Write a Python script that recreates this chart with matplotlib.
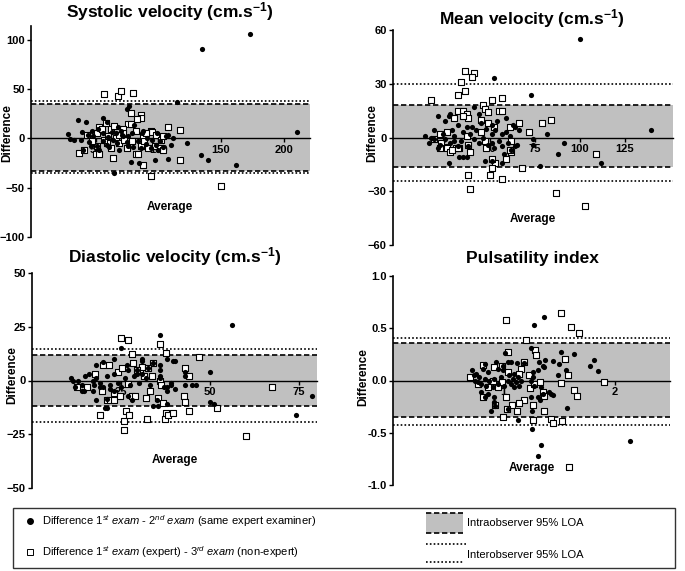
import matplotlib
matplotlib.use('Agg')
import matplotlib.pyplot as plt
from matplotlib.patches import Rectangle

plt.rcParams['font.family'] = ['Liberation Sans', 'DejaVu Sans']
plt.rcParams['font.weight'] = 'bold'
plt.rcParams['mathtext.fontset'] = 'custom'
plt.rcParams['mathtext.rm'] = 'Liberation Sans:weight=normal'
plt.rcParams['mathtext.it'] = 'Liberation Sans:style=italic:weight=normal'
plt.rcParams['mathtext.bf'] = 'Liberation Sans:weight=bold'
plt.rcParams['mathtext.sf'] = 'Liberation Sans:weight=normal'

# ---------------- data ----------------
titles = ['Systolic velocity (cm.s$^{\\mathbf{-1}}$)',
          'Mean velocity (cm.s$^{\\mathbf{-1}}$)',
          'Diastolic velocity (cm.s$^{\\mathbf{-1}}$)',
          'Pulsatility index']

sys_intra = [(173,106),(135,91),(211,7),(115,37),(123,-5),(134,-17),(140,-22),(162,-27),(65,-35),(78,-24),(85,-25),(97,-22),(108,-21),
             (77,33),(75,30),(36,19),(42,17),(56,21),(28,4),(30,-1),(39,7),(38,-2),(47,8),(48,2),(52,10),(59,17),(68,12),(66,5),(72,2),(79,5),
             (81,14),(87,5),(91,0),(95,-2),(99,5),(101,-3),(106,2),(110,-7),(112,0),(40,-12),(51,-8),(59,-7),(69,-12),(76,-8),(86,-10),(94,-10),
             (98,-7),(75,-4),(64,-2),(56,-3),(46,-8),(56,5),(70,8),(88,8),(76,2),(63,7),(33,-2),(44,3),(60,1),(84,-3),(90,-6),(104,-9),(67,-5),
             (53,-12),(61,-9),(80,-9),(100,-12),(108,3),(45,-4),(71,3)]
sys_inter = [(57,45),(68,43),(70,48),(80,46),(78,26),(86,24),(86,21),(58,16),(76,15),(78,15),(53,12),(62,10),(72,10),(108,12),(117,9),
             (94,8),(95,6),(98,3),(43,3),(51,5),(66,0),(82,8),(88,2),(79,-3),(69,-5),(59,-5),(51,-8),(37,-15),(41,-12),(50,-16),(53,-16),
             (64,-20),(82,-16),(84,-16),(88,-27),(94,-38),(117,-22),(97,-8),(101,-10),(104,-12),(86,-8),(75,-10),(57,-2),(72,5),(92,-10),
             (150,-48),(102,-2),(104,2),(89,-3),(69,3),(62,-10),(47,-3),(55,10),(65,13),(83,20),(60,2),(73,-2),(90,5)]

mean_intra = [(100,55),(52,33),(73,24),(140,4),(82,2),(91,-3),(74,-1),(74,-4),(88,-9),(78,-16),(112,-14),
              (14,1),(17,0),(21,12),(19,4),(21,-6),(27,-14),(28,13),(30,-2),(35,-11),(40,6),(41,17),(44,13),(51,-3),(51,-13),(57,-14),
              (59,11),(63,7),(65,-4),(61,1),(27,12),(25,9),(32,7),(29,4),(37,6),(39,2),(45,8),(48,5),(51,7),(54,9),(53,4),(57,2),(59,3),
              (64,6),(66,4),(25,-1),(28,-3),(32,-5),(34,-2),(38,-5),(41,-1),(44,-3),(46,0),(49,-4),(52,-6),(55,-2),(57,-5),(60,-3),(62,-7),
              (64,-5),(33,-11),(37,-11),(47,-13),(58,-9),(19,-1),(22,-4),(16,-3),(51,2),(30,1),(35,3),(42,4),(24,2)]
mean_inter = [(36,37),(41,36),(40,34),(34,31),(36,26),(32,24),(17,21),(57,22),(51,21),(46,18),(47,16),(49,14),(55,15),(57,15),(32,15),
              (35,15),(37,13),(38,11),(35,12),(30,11),(66,8),(72,3),(79,8),(84,10),(45,10),(49,8),(52,6),(61,6),(62,-2),(62,-8),(68,-17),
              (59,-12),(53,-14),(51,-12),(51,-17),(50,-21),(38,-21),(39,-29),(57,-23),(87,-31),(103,-38),(109,-9),(33,-6),(38,-4),(39,-8),
              (26,-6),(28,-8),(31,-6),(22,2),(23,-3),(26,3),(19,-1),(37,1),(45,3),(47,-2),(61,-7),(48,-6),(22,-6),(29,-7),(32,-6)]

dia_intra = [(56,26),(36,21),(25,15),(50,4),(51,-11),(50,-10),(74,-16),(78.5,-7),(45,-2),(46,-2),(43,-2),(43,4),(43,2),(38,10),(39.5,9),
             (36,7),(36,2),(38,-3),(39,-1),(38,-11),(34,-12),(21,-13),(18,-9),(19,-3),(11,1),(11.5,0),(13,0),(14,-2),(14,-5),(15,2),(16,3),
             (18,7),(20,8.5),(23,10),(17,0),(17.5,-2),(18,1),(19,-1),(20,-3),(21,2),(22,-2),(23,3),(24,-1),(25,-3),(26,1),(27,5),(27.5,-2),
             (28.5,2),(29.5,5),(30,-1),(31,3),(32,1),(32.5,6),(33,-2),(31,9),(34,8),(36,5),(36,1),(37,-3),(38,-5),(39,-2),(40,-4),(40,9),
             (35,-9),(35.5,-12),(21,-8.5),(20.5,-13),(17,-5),(14.5,-5),(23,-5),(27,-7),(28,-9),(22,-4),(12,-3),(26.7,7),(31,10),(29.5,3)]
dia_inter = [(25,20),(27,19),(36,17),(37.6,13),(47,11),(43,6),(44,2),(42.6,-7),(43,-10),(44,-14),(52,-13),(60,-26),(67.5,-3),(25.7,-19),
             (26.4,-14),(27.3,-16),(25.7,-23),(19.2,-16),(32.3,-18),(37.2,-18),(37.6,-15),(38.3,-16),(39.6,-15),(12.7,-3),(15.3,-3),
             (19.7,-5),(21,-9),(22,-9),(23,-9),(23,-6),(24.8,-7),(28,-7),(29,-7),(32,-8),(33,-5),(35.8,0),(36.2,-2),(35.5,-8),(36.7,-10.5),
             (20,7),(21.5,7),(17.8,3),(28,12.4),(28.3,8),(30.4,5),(34,8),(30.8,6.5),(32.7,6),(24,4),(25.3,6),(29.5,4.7),(31.3,2),(33.7,2),
             (27,-1.6)]

pi_intra = [(1.365,0.61),(1.275,0.53),(2.14,-0.58),(1.335,-0.62),(1.305,-0.72),(1.25,-0.46),(1.13,-0.38),(1.57,-0.26),(1.43,-0.13),
            (1.485,0.05),(1.52,0.27),(1.44,0.19),(1.56,0.1),(1.63,0.25),(1.78,0.14),(1.81,0.2),(1.85,0.09),(1.5,0.16),(1.37,0.2),
            (1.365,0.13),(1.245,0.31),(1.305,-0.16),(1.33,-0.19),(1.245,-0.16),(1.25,-0.29),(0.92,-0.24),(0.88,-0.29),(1.015,0.26),
            (1.066,0.18),(1.12,0.17),(0.716,0.096),(0.826,0.16),(1.096,0.064),(0.73,0.048),(0.81,0.11),(0.856,0.08),(0.93,0.175),
            (0.99,0.14),(1.036,0.175),(1.186,0.166),(1.32,0.175),(1.35,0.14),(1.305,0.096),(1.26,0.08),(0.737,0),(0.767,-0.016),
            (0.796,-0.03),(0.826,0.016),(0.84,-0.048),(0.87,0),(0.9,-0.064),(0.916,0.016),(0.946,-0.03),(0.976,0.03),(1.006,-0.048),
            (1.036,0),(1.05,0.048),(1.066,-0.03),(1.08,0.016),(1.096,-0.064),(1.11,-0.016),(1.126,0.03),(1.14,-0.048),(1.156,0),
            (0.796,-0.11),(0.826,-0.16),(0.856,-0.127),(0.916,-0.16),(0.91,-0.207),(1.245,0),(1.275,-0.048),(1.26,0.03),(1.335,-0.064),
            (1.35,-0.127),(1.41,-0.11),(1.44,-0.137),(1.036,-0.27),(0.78,0.03),(0.75,0.064),(0.99,0.096),(0.946,0.11)]
pi_inter = [(1.02,0.58),(1.52,0.65),(1.605,0.51),(1.68,0.45),(1.2,0.39),(1.036,0.27),(1.285,0.29),(1.29,0.24),(1.55,0.21),(1.635,-0.09),
            (1.665,-0.15),(1.9,-0.016),(1.58,0.05),(1.515,-0.02),(1.59,-0.83),(1.524,-0.39),(1.425,-0.37),(1.446,-0.41),(1.26,-0.38),
            (1.365,-0.29),(1.266,-0.23),(1.18,-0.19),(1.14,-0.22),(1.075,-0.23),(1.03,-0.27),(1.12,-0.29),(0.99,-0.35),(0.92,-0.23),
            (1.02,-0.16),(0.81,-0.16),(0.698,0.03),(0.81,0.15),(0.916,0.13),(0.985,0.14),(1.036,0.08),(1.156,0.11),(1.18,0.175),
            (1.14,0.064),(1.23,0.057),(1.24,-0.07),(1.275,-0.03),(1.33,-0.016),(1.35,-0.11),(1.365,-0.15),(0.946,-0.064),(0.856,-0.064),
            (0.766,-0.03),(0.9,0),(0.98,-0.016)]

intra_series = [sys_intra, mean_intra, dia_intra, pi_intra]
inter_series = [sys_inter, mean_inter, dia_inter, pi_inter]

intra_upper = [35, 18, 12, 0.36]
intra_lower = [-33, -16.7, -12, -0.35]
inter_upper = [38, 29.8, 14.6, 0.41]
inter_lower = [-35, -24.2, -19.4, -0.43]

xlims = [(-1.5, 221), (-4, 152), (0, 80), (0, 2.5)]
ylims = [(-100, 114), (-60, 60), (-50, 50), (-1, 1)]
xticks = [[50, 100, 150, 200], [25, 50, 75, 100, 125], [25, 50, 75], [1, 2]]
yticks = [[-100, -50, 0, 50, 100], [-60, -30, 0, 30, 60], [-50, -25, 0, 25, 50], [-1.0, -0.5, 0.0, 0.5, 1.0]]
ytick_labels = [None, None, None, ['-1.0', '-0.5', '0.0', '0.5', '1.0']]

# ---------------- layout (pixels) ----------------
W, H = 685, 571
fig = plt.figure(figsize=(W / 100, H / 100), dpi=100)

boxes = [(31, 26, 310, 237), (393, 30, 673, 245), (32, 273, 317, 488), (393, 276, 670, 485)]
title_pos = [(170, 12), (532, 19), (175, 257), (532, 258)]
avg_pos = [(170, 207), (533, 219), (175, 460), (532, 468)]
diff_pos = [(7, 133), (372, 133), (12, 375), (363, 377)]


def fx(x):
    return x / W


def fy(y):
    return 1 - y / H


for i in range(4):
    l, t, r, b = boxes[i]
    ax = fig.add_axes([l / W, 1 - b / H, (r - l) / W, (b - t) / H])
    ax.set_xlim(*xlims[i])
    ax.set_ylim(*ylims[i])
    ax.patch.set_visible(False)
    for s in ['top', 'right']:
        ax.spines[s].set_visible(False)
    ax.spines['bottom'].set_position(('data', 0))
    ax.spines['bottom'].set_linewidth(1.0)
    ax.spines['left'].set_linewidth(1.2)
    x0, x1 = xlims[i]
    ax.fill_between([x0, x1], intra_lower[i], intra_upper[i], color='#c0c0c0', lw=0, zorder=0.5)
    for v in (intra_upper[i], intra_lower[i]):
        ax.plot([x0, x1], [v, v], color='black', lw=1.2, ls=(0, (3.2, 1.6)), zorder=1)
    for v in (inter_upper[i], inter_lower[i]):
        ax.plot([x0, x1], [v, v], color='black', lw=1.2, ls=(0, (1, 1.3)), zorder=1)
    xa = [p[0] for p in intra_series[i]]
    ya = [p[1] for p in intra_series[i]]
    xb = [p[0] for p in inter_series[i]]
    yb = [p[1] for p in inter_series[i]]
    ax.scatter(xb, yb, s=20, marker='s', facecolor='white', edgecolor='black', linewidth=0.8, zorder=3)
    ax.scatter(xa, ya, s=14, marker='o', color='black', linewidth=0, zorder=4)
    ax.set_xticks(xticks[i])
    ax.set_yticks(yticks[i])
    if ytick_labels[i] is not None:
        ax.set_yticklabels(ytick_labels[i])
    ax.tick_params(axis='both', direction='out', length=3, width=1, pad=1.5, labelsize=8)
    for lab in ax.get_xticklabels() + ax.get_yticklabels():
        lab.set_fontweight('bold')
    fig.text(fx(title_pos[i][0]), fy(title_pos[i][1]), titles[i], ha='center', va='center',
             fontsize=12.5, fontweight='bold')
    fig.text(fx(avg_pos[i][0]), fy(avg_pos[i][1]), 'Average', ha='center', va='center',
             fontsize=8.5, fontweight='bold')
    fig.text(fx(diff_pos[i][0]), fy(diff_pos[i][1]), 'Difference', ha='center', va='center',
             rotation=90, fontsize=8.5, fontweight='bold')

# ---------------- legend ----------------
lg = fig.add_axes([0, 0, 1, 1])
lg.set_xlim(0, W)
lg.set_ylim(H, 0)
lg.axis('off')
lg.patch.set_visible(False)
lg.add_patch(Rectangle((13, 508), 662, 60, fill=False, edgecolor='#333333', lw=1.0))
row1, row2 = 521, 552
lg.plot([30], [row1], marker='o', ms=4, color='black', ls='none')
lg.plot([30], [row2], marker='s', ms=4.3, mfc='white', mec='black', mew=0.7, ls='none')
lg.text(42, row1, r'Difference $\mathit{1^{st}\ exam}$ - $\mathit{2^{nd}\ exam}$ (same expert examiner)',
        ha='left', va='center', fontsize=8, fontweight='normal')
lg.text(42, row2, r'Difference $\mathit{1^{st}\ exam}$ (expert) - $\mathit{3^{rd}\ exam}$ (non-expert)',
        ha='left', va='center', fontsize=8, fontweight='normal')
lg.add_patch(Rectangle((426, 513), 37, 20, facecolor='#c0c0c0', edgecolor='none'))
lg.plot([426, 463], [513, 513], color='black', lw=1.2, ls=(0, (3.2, 1.6)))
lg.plot([426, 463], [533, 533], color='black', lw=1.2, ls=(0, (3.2, 1.6)))
lg.plot([426, 466], [544, 544], color='black', lw=1.2, ls=(0, (1, 1.3)))
lg.plot([426, 463], [562, 562], color='black', lw=1.2, ls=(0, (1, 1.3)))
lg.text(467, 523, 'Intraobserver 95% LOA', ha='left', va='center', fontsize=8, fontweight='normal')
lg.text(467, 555, 'Interobserver 95% LOA', ha='left', va='center', fontsize=8, fontweight='normal')

fig.savefig('out.png', dpi=100)
